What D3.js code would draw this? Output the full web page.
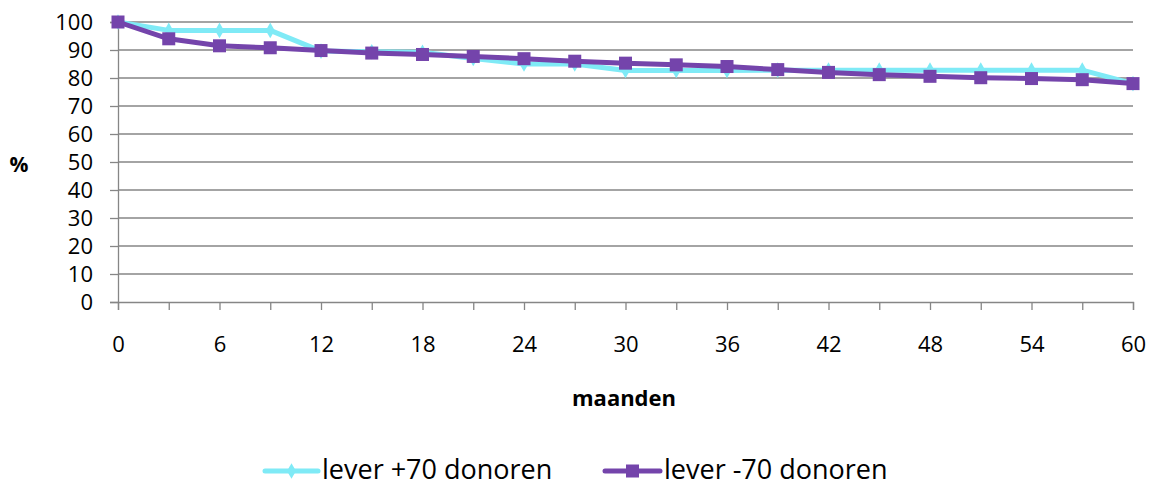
<!DOCTYPE html>
<html>
<head>
<meta charset="utf-8">
<script src="https://cdn.jsdelivr.net/npm/d3@7"></script>
<style>
  html, body { margin: 0; padding: 0; background: #fff; }
  svg { display: block; font-family: "Open Sans", "Lato", sans-serif; }
</style>
</head>
<body>
<svg id="chart" width="1150" height="486"></svg>
<script>
// Months after transplant (every 3 months)
const months = [0, 3, 6, 9, 12, 15, 18, 21, 24, 27, 30, 33, 36, 39, 42, 45, 48, 51, 54, 57, 60];
// Survival percentage per donor age group
const leverPlus70 = [100, 97, 97, 97, 89.6, 89.4, 89.2, 87, 85, 85, 82.7, 82.7, 82.7, 82.8, 82.8, 82.8, 82.8, 82.8, 82.8, 82.8, 78];
const leverMin70 = [100, 94, 91.5, 90.8, 89.8, 88.9, 88.4, 87.7, 86.9, 86, 85.3, 84.7, 84.1, 83, 82, 81.2, 80.6, 80.1, 79.8, 79.4, 78];
const yTicks = [0, 10, 20, 30, 40, 50, 60, 70, 80, 90, 100];
const xLabels = [0, 6, 12, 18, 24, 30, 36, 42, 48, 54, 60];
const seriesNames = ["lever +70 donoren", "lever -70 donoren"];

const svg = d3.select("#chart");
const plotLeft = 118, plotRight = 1133, plotTop = 22, plotBottom = 302;

const x = d3.scaleLinear().domain([0, 60]).range([plotLeft, plotRight]);
const y = d3.scaleLinear().domain([0, 100]).range([plotBottom, plotTop]);

const gridColor = "#868686";
const cyan = "#7FEAF6";
const purple = "#7444AB";

// horizontal gridlines
svg.append("g")
  .selectAll("line")
  .data(yTicks.filter(d => d > 0))
  .join("line")
  .attr("x1", plotLeft).attr("x2", plotRight)
  .attr("y1", d => y(d)).attr("y2", d => y(d))
  .attr("stroke", gridColor).attr("stroke-width", 1.3);

// y axis
const yAxis = svg.append("g")
  .attr("transform", `translate(${plotLeft},0)`)
  .call(d3.axisLeft(y).tickValues(yTicks).tickSize(8).tickPadding(17));
yAxis.select(".domain").attr("stroke", gridColor).attr("stroke-width", 1.3);
yAxis.selectAll(".tick line").attr("stroke", gridColor).attr("stroke-width", 1.3);
yAxis.selectAll(".tick text").attr("font-size", 22).attr("fill", "#000")
  .attr("font-family", "Open Sans, sans-serif");

// x axis
const xAxis = svg.append("g")
  .attr("transform", `translate(0,${plotBottom})`)
  .call(d3.axisBottom(x).tickValues(months).tickSize(8).tickPadding(26)
    .tickFormat(d => xLabels.includes(d) ? d : ""));
xAxis.select(".domain").attr("stroke", gridColor).attr("stroke-width", 1.3);
xAxis.selectAll(".tick line").attr("stroke", gridColor).attr("stroke-width", 1.3);
xAxis.selectAll(".tick text").attr("font-size", 22).attr("fill", "#000")
  .attr("font-family", "Open Sans, sans-serif");

// axis titles
svg.append("text").attr("x", 19).attr("y", 172).attr("text-anchor", "middle")
  .attr("font-size", 21).attr("font-weight", "bold").text("%");
svg.append("text").attr("x", 624).attr("y", 406).attr("text-anchor", "middle")
  .attr("font-size", 22).attr("font-weight", "bold").text("maanden");

const line = d3.line().x((d, i) => x(months[i])).y(d => y(d));

// +70 series: line with diamond markers
svg.append("path").datum(leverPlus70)
  .attr("d", line).attr("fill", "none").attr("stroke", cyan)
  .attr("stroke-width", 5).attr("stroke-linejoin", "round");
const diamond = d3.symbol().type(d3.symbolDiamond).size(70);
svg.append("g").selectAll("path")
  .data(leverPlus70)
  .join("path")
  .attr("d", diamond)
  .attr("transform", (d, i) => `translate(${x(months[i])},${y(d)})`)
  .attr("fill", cyan);

// -70 series: line with square markers
svg.append("path").datum(leverMin70)
  .attr("d", line).attr("fill", "none").attr("stroke", purple)
  .attr("stroke-width", 5).attr("stroke-linejoin", "round");
svg.append("g").selectAll("rect")
  .data(leverMin70)
  .join("rect")
  .attr("x", (d, i) => x(months[i]) - 6.5)
  .attr("y", d => y(d) - 6.5)
  .attr("width", 13).attr("height", 13)
  .attr("fill", purple);

// legend
const lg = svg.append("g");
const legendY = 471;
// first entry
lg.append("line").attr("x1", 265).attr("x2", 318).attr("y1", legendY).attr("y2", legendY)
  .attr("stroke", cyan).attr("stroke-width", 5).attr("stroke-linecap", "round");
lg.append("path").attr("d", diamond).attr("transform", `translate(291.5,${legendY})`).attr("fill", cyan);
lg.append("text").attr("x", 322).attr("y", 478.5).attr("font-size", 27).text(seriesNames[0]);
// second entry
lg.append("line").attr("x1", 605).attr("x2", 660).attr("y1", legendY).attr("y2", legendY)
  .attr("stroke", purple).attr("stroke-width", 5).attr("stroke-linecap", "round");
lg.append("rect").attr("x", 626).attr("y", legendY - 6.5).attr("width", 13).attr("height", 13).attr("fill", purple);
lg.append("text").attr("x", 664).attr("y", 478.5).attr("font-size", 27).text(seriesNames[1]);
</script>
</body>
</html>
